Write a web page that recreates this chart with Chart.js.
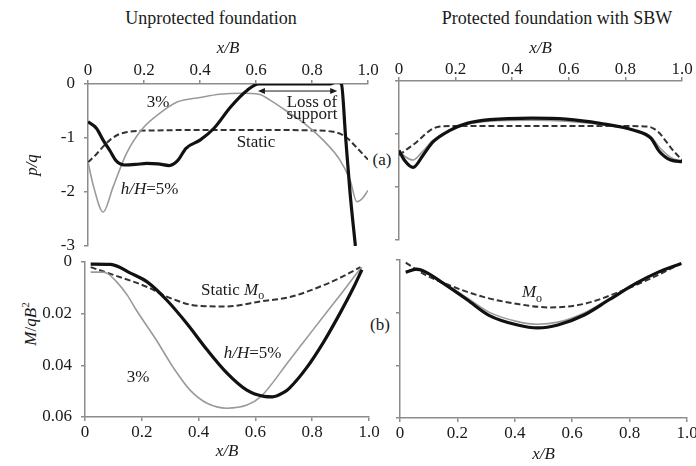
<!DOCTYPE html>
<html>
<head>
<meta charset="utf-8">
<script src="https://cdn.jsdelivr.net/npm/chart.js@4/dist/chart.umd.min.js"></script>
<style>
  body { margin: 0; background: #fff; width: 696px; height: 466px; position: relative; overflow: hidden;
         font-family: "Liberation Serif", "DejaVu Serif", serif; color: #1a1a1a; }
  canvas { position: absolute; }
  .lbl { position: absolute; font-size: 17px; transform: translate(-50%, -50%); white-space: nowrap; }
  .head { font-size: 18px; }
  .rot { transform: translate(-50%, -50%) rotate(-90deg); }
</style>
</head>
<body>
<div class="lbl head" style="left:211px;top:18px">Unprotected foundation</div>
<div class="lbl head" style="left:557px;top:18px">Protected foundation with SBW</div>
<div class="lbl" style="left:382px;top:160px">(a)</div>
<div class="lbl" style="left:380px;top:325px">(b)</div>
<div class="lbl rot" style="left:30px;top:324px"><i>M</i>/<i>qB</i><sup style="font-size:11px">2</sup></div>

<canvas id="upPq" width="385" height="258" style="left:0;top:0"></canvas>
<canvas id="prPq" width="311" height="258" style="left:385px;top:0"></canvas>
<canvas id="upM" width="385" height="216" style="left:0;top:250px"></canvas>
<canvas id="prM" width="311" height="216" style="left:385px;top:250px"></canvas>

<script>
// tick labels
const xTickLabels = ["0", "0.2", "0.4", "0.6", "0.8", "1.0"];
const pqTickLabels = ["-3", "-2", "-1", "0"];
const mTickLabels = ["0", "0.02", "0.04", "0.06"];

// (a) p/q, unprotected foundation
const upPq5x = [0, 0.03, 0.054, 0.08, 0.1, 0.13, 0.17, 0.21, 0.25, 0.29, 0.32, 0.35, 0.4, 0.45, 0.51, 0.57, 0.61, 0.7, 0.8, 0.86, 0.89, 0.905, 0.92, 0.936, 0.955];
const upPq5y = [-0.7, -0.82, -1.04, -1.25, -1.42, -1.5, -1.49, -1.47, -1.48, -1.51, -1.42, -1.19, -1.04, -0.82, -0.42, -0.11, 0, 0, 0, 0, 0.04, 0, -0.98, -2.02, -3.0];
const upPq3x = [0, 0.02, 0.054, 0.09, 0.138, 0.196, 0.257, 0.32, 0.4, 0.47, 0.55, 0.61, 0.66, 0.72, 0.78, 0.84, 0.9, 0.936, 0.96, 0.98, 1.0];
const upPq3y = [-1.45, -1.9, -2.37, -1.9, -1.28, -0.82, -0.54, -0.33, -0.25, -0.19, -0.17, -0.19, -0.33, -0.54, -0.76, -1.04, -1.41, -1.78, -2.18, -2.12, -1.97];
const upPqSx = [0, 0.03, 0.054, 0.08, 0.107, 0.14, 0.175, 0.25, 0.4, 0.6, 0.8, 0.87, 0.9, 0.93, 0.96, 1.0];
const upPqSy = [-1.45, -1.3, -1.16, -1.03, -0.94, -0.89, -0.87, -0.86, -0.85, -0.85, -0.86, -0.88, -0.92, -1.02, -1.18, -1.4];

// (a) p/q, protected foundation
const prPq5x = [0, 0.02, 0.05, 0.085, 0.12, 0.18, 0.24, 0.32, 0.47, 0.59, 0.71, 0.83, 0.89, 0.92, 0.96, 1.0];
const prPq5y = [-1.31, -1.5, -1.63, -1.4, -1.15, -0.93, -0.8, -0.73, -0.7, -0.72, -0.8, -0.93, -1.08, -1.33, -1.49, -1.52];
const prPq3x = [0, 0.02, 0.05, 0.085, 0.12, 0.18, 0.24, 0.32, 0.47, 0.59, 0.71, 0.83, 0.89, 0.92, 0.96, 1.0];
const prPq3y = [-1.31, -1.42, -1.49, -1.32, -1.12, -0.93, -0.82, -0.76, -0.74, -0.76, -0.82, -0.93, -1.05, -1.25, -1.44, -1.52];
const prPqSx = [0, 0.03, 0.063, 0.11, 0.145, 0.2, 0.4, 0.6, 0.8, 0.88, 0.9, 0.92, 0.945, 0.97, 1.0];
const prPqSy = [-1.4, -1.28, -1.15, -0.93, -0.86, -0.85, -0.85, -0.85, -0.85, -0.86, -0.9, -0.98, -1.15, -1.32, -1.49];

// (b) M/qB^2, unprotected foundation
const upM5x = [0.02, 0.09, 0.16, 0.22, 0.29, 0.36, 0.43, 0.5, 0.57, 0.63, 0.66, 0.7, 0.72, 0.78, 0.84, 0.9, 0.945, 0.975];
const upM5y = [0.0008, 0.0009, 0.0043, 0.0078, 0.015, 0.024, 0.034, 0.043, 0.0496, 0.052, 0.0522, 0.0505, 0.0488, 0.041, 0.031, 0.0194, 0.010, 0.003];
const upM3x = [0.02, 0.06, 0.08, 0.11, 0.15, 0.18, 0.25, 0.31, 0.37, 0.43, 0.5, 0.57, 0.62, 0.72, 0.78, 0.84, 0.9, 0.96, 0.975];
const upM3y = [0.0039, 0.0039, 0.0045, 0.0075, 0.013, 0.0185, 0.03, 0.0407, 0.0496, 0.0547, 0.0566, 0.0554, 0.052, 0.038, 0.0295, 0.021, 0.0126, 0.004, 0.002];
const upMSx = [0.02, 0.1, 0.22, 0.29, 0.4, 0.5, 0.62, 0.72, 0.84, 0.9, 0.97];
const upMSy = [0.002, 0.005, 0.0097, 0.0135, 0.017, 0.0172, 0.0152, 0.0136, 0.009, 0.006, 0.002];

// (b) M/qB^2, protected foundation
const prM5x = [0.02, 0.058, 0.09, 0.15, 0.233, 0.31, 0.41, 0.48, 0.55, 0.64, 0.73, 0.825, 0.9, 0.98];
const prM5y = [0.0046, 0.0035, 0.0046, 0.0088, 0.015, 0.021, 0.0247, 0.0258, 0.0247, 0.021, 0.015, 0.0087, 0.0046, 0.0013];
const prM3y = [0.0046, 0.0035, 0.0045, 0.0085, 0.0143, 0.0198, 0.0234, 0.0244, 0.0236, 0.0202, 0.0146, 0.0086, 0.0046, 0.0013];
const prMSx = [0.02, 0.09, 0.17, 0.29, 0.41, 0.52, 0.64, 0.755, 0.87, 0.98];
const prMSy = [0.001, 0.0057, 0.0095, 0.014, 0.0167, 0.018, 0.0167, 0.0125, 0.0072, 0.0013];

const FONT = "'Liberation Serif', 'DejaVu Serif', serif";
const AXIS = "#8c8c8c";
const INK = "#1a1a1a";

const pts = (xs, ys) => xs.map((x, i) => ({ x, y: ys[i] }));

// three line styles used in every panel
const thick = (d) => ({ data: d, borderColor: "#111", borderWidth: 3.2 });
const thin = (d) => ({ data: d, borderColor: "#9a9a9a", borderWidth: 1.6 });
const dashed = (d) => ({ data: d, borderColor: "#333", borderWidth: 2, borderDash: [6, 3] });

// pin axis sizes so the four plot areas line up with the figure
const fixSize = (w, h) => (scale) => {
  if (w != null) scale.width = w;
  if (h != null) scale.height = h;
  scale.paddingLeft = scale.paddingRight = scale.paddingTop = scale.paddingBottom = 0;
};

function drawRich(ctx, runs, cx, cy) {
  const fontOf = (r) => `${r.it ? "italic " : ""}${r.sub ? 12 : 17}px ${FONT}`;
  let w = 0;
  runs.forEach((r) => { ctx.font = fontOf(r); w += ctx.measureText(r.t).width; });
  let x = cx - w / 2;
  ctx.textBaseline = "middle";
  ctx.textAlign = "left";
  ctx.fillStyle = INK;
  runs.forEach((r) => {
    ctx.font = fontOf(r);
    ctx.fillText(r.t, x, cy + (r.sub ? 6 : 0));
    x += ctx.measureText(r.t).width;
  });
}

const makeNotes = (texts, arrows = []) => ({
  id: "notes",
  afterDatasetsDraw(chart) {
    const { ctx, scales: { x, y } } = chart;
    ctx.save();
    texts.forEach((n) => drawRich(ctx, n.runs, x.getPixelForValue(n.x), y.getPixelForValue(n.y)));
    arrows.forEach((a) => {
      const x1 = x.getPixelForValue(a.x1), x2 = x.getPixelForValue(a.x2), yy = y.getPixelForValue(a.y);
      ctx.strokeStyle = INK;
      ctx.fillStyle = INK;
      ctx.lineWidth = 1;
      ctx.beginPath();
      ctx.moveTo(x1 + 4, yy);
      ctx.lineTo(x2 - 4, yy);
      ctx.stroke();
      [[x1, 1], [x2, -1]].forEach(([px, dir]) => {
        ctx.beginPath();
        ctx.moveTo(px, yy);
        ctx.lineTo(px + 7 * dir, yy - 3);
        ctx.lineTo(px + 7 * dir, yy + 3);
        ctx.closePath();
        ctx.fill();
      });
    });
    ctx.restore();
  },
});

const tickFont = { family: FONT, size: 17 };
const titleFont = { family: FONT, size: 17, style: "italic" };

function xAxis(position, height, tickPad, titlePad) {
  return {
    type: "linear",
    position,
    min: 0,
    max: 1,
    afterFit: fixSize(null, height),
    ticks: { stepSize: 0.2, padding: tickPad, color: INK, font: tickFont, maxRotation: 0,
             callback: (v) => xTickLabels[Math.round(v * 5)] },
    grid: { drawOnChartArea: false, color: AXIS, tickLength: 4, lineWidth: 1.5 },
    border: { color: AXIS, width: 1.5 },
    title: { display: true, text: "x/B", color: INK, font: titleFont, padding: titlePad },
  };
}

function yAxis(min, max, labels, width, showLabels, extra) {
  const step = (max - min) / 3;
  return Object.assign({
    type: "linear",
    min,
    max,
    afterFit: fixSize(width, null),
    ticks: { display: showLabels, stepSize: step, padding: 9, color: INK, font: tickFont,
             callback: (v) => labels[Math.round((v - min) / step)] },
    grid: { drawOnChartArea: false, color: AXIS, tickLength: 4, lineWidth: 1.5 },
    border: { color: AXIS, width: 1.5 },
  }, extra);
}

function panel(id, datasets, scales, padding, notes) {
  return new Chart(document.getElementById(id), {
    type: "line",
    data: { datasets },
    options: {
      responsive: false,
      animation: false,
      layout: { padding },
      elements: { point: { radius: 0 }, line: { cubicInterpolationMode: "monotone", fill: false } },
      plugins: { legend: { display: false }, tooltip: { enabled: false } },
      scales,
    },
    plugins: [notes],
  });
}

panel("upPq",
  [thick(pts(upPq5x, upPq5y)), thin(pts(upPq3x, upPq3y)), dashed(pts(upPqSx, upPqSy))],
  {
    x: xAxis("top", 84, -1, { top: 38 }),
    y: yAxis(-3, 0, pqTickLabels, 88, true, {
      title: { display: true, text: "p/q", color: INK, font: titleFont, padding: { top: 22 } },
    }),
  },
  { left: 0, top: 0, right: 17, bottom: 12 },
  makeNotes([
    { x: 0.25, y: -0.35, runs: [{ t: "3%" }] },
    { x: 0.6, y: -1.09, runs: [{ t: "Static" }] },
    { x: 0.22, y: -1.96, runs: [{ t: "h/H", it: true }, { t: "=5%" }] },
    { x: 0.8, y: -0.34, runs: [{ t: "Loss of" }] },
    { x: 0.8, y: -0.56, runs: [{ t: "support" }] },
  ], [{ x1: 0.607, x2: 0.89, y: -0.13 }])
);

panel("prPq",
  [thick(pts(prPq5x, prPq5y)), thin(pts(prPq3x, prPq3y)), dashed(pts(prPqSx, prPqSy))],
  {
    x: xAxis("top", 81, -3, { top: 38 }),
    y: yAxis(-3, 0, pqTickLabels, 14, false),
  },
  { left: 0, top: 0, right: 14, bottom: 18 },
  makeNotes([])
);

panel("upM",
  [thick(pts(upM5x, upM5y)), thin(pts(upM3x, upM3y)), dashed(pts(upMSx, upMSy))],
  {
    x: xAxis("bottom", 49, 1, { bottom: 4 }),
    y: yAxis(0, 0.06, mTickLabels, 85, true, { reverse: true }),
  },
  { left: 0, top: 12, right: 16, bottom: 0 },
  makeNotes([
    { x: 0.52, y: 0.0109, runs: [{ t: "Static " }, { t: "M", it: true }, { t: "o", sub: true }] },
    { x: 0.59, y: 0.0353, runs: [{ t: "h/H", it: true }, { t: "=5%" }] },
    { x: 0.187, y: 0.0446, runs: [{ t: "3%" }] },
  ])
);

panel("prM",
  [thick(pts(prM5x, prM5y)), thin(pts(prM5x, prM3y)), dashed(pts(prMSx, prMSy))],
  {
    x: xAxis("bottom", 48, 1, { bottom: 1 }),
    y: yAxis(0, 0.06, mTickLabels, 15, false, { reverse: true }),
  },
  { left: 0, top: 10, right: 9, bottom: 0 },
  makeNotes([
    { x: 0.46, y: 0.0125, runs: [{ t: "M", it: true }, { t: "o", sub: true }] },
  ])
);
</script>
</body>
</html>
